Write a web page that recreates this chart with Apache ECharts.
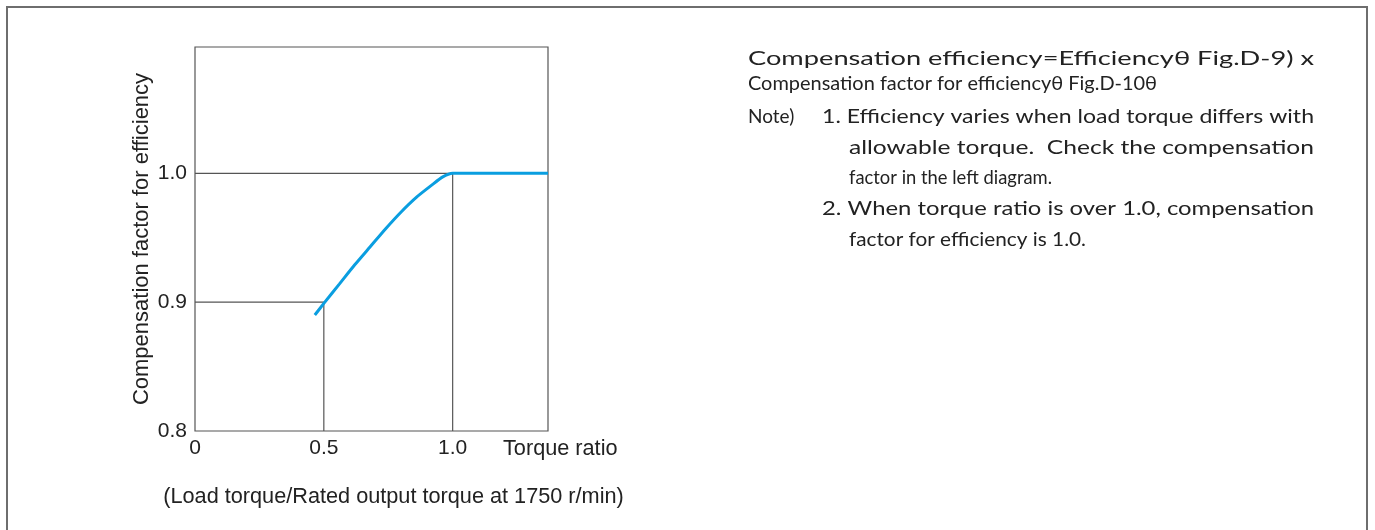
<!DOCTYPE html>
<html lang="en">
<head>
<meta charset="UTF-8" />
<title>Compensation factor for efficiency</title>
<script src="https://cdn.jsdelivr.net/npm/echarts@6/dist/echarts.min.js"></script>
<style>html,body{margin:0;padding:0;background:#fff}</style>
</head>
<body>
<div id="main" style="width:1375px;height:530px"></div>
<script>
// curve (torque ratio -> compensation factor)
var curveX = [0.465, 0.5, 0.56, 0.62, 0.68, 0.74, 0.8, 0.86, 0.92, 0.96, 1.0, 1.37];
var curveY = [0.89, 0.899, 0.914, 0.929, 0.943, 0.957, 0.97, 0.9815, 0.991, 0.997, 1.0, 1.0];
// guide lines at 1.0 and 0.9
var guide10 = [[0, 1.0], [1.0, 1.0], [1.0, 0.8]];
var guide09 = [[0, 0.9], [0.5, 0.9], [0.5, 0.8]];
var yTicks = [0.8, 0.9, 1.0];
var xTicks = [0, 0.5, 1.0];

var noteLines = [
  "Compensation efficiency=Efficiencyθ Fig.D-9) x",
  "Compensation factor for efficiencyθ Fig.D-10θ",
  "Note)",
  "1. Efficiency varies when load torque differs with",
  "allowable torque.  Check the compensation",
  "factor in the left diagram.",
  "2. When torque ratio is over 1.0, compensation",
  "factor for efficiency is 1.0."
];
// [left, right (0 = natural width), middle y]
var noteLayout = [
  [748, 1314, 59],
  [748, 1157, 84],
  [748, 0, 117],
  [822, 1314, 117],
  [849, 1314, 148],
  [849, 1052, 178],
  [822, 1314, 209],
  [849, 1086, 240]
];

var noteFont = '19px Lato';
var ctx = document.createElement("canvas").getContext("2d");
ctx.font = noteFont;

var graphics = [
  {
    type: "rect",
    shape: { x: 7, y: 7, width: 1360, height: 600 },
    style: { fill: "none", stroke: "#6e6e6e", lineWidth: 2 },
    silent: true
  },
  {
    type: "text",
    x: 503, y: 449,
    style: { text: "Torque ratio", font: '21.7px "Liberation Sans"', fill: "#222", verticalAlign: "middle" }
  }
];
noteLines.forEach(function (t, i) {
  var l = noteLayout[i];
  var w = ctx.measureText(t).width;
  var sx = l[1] ? (l[1] - l[0]) / w : 1;
  graphics.push({
    type: "text",
    x: l[0], y: l[2], scaleX: sx,
    style: { text: t, font: noteFont, fill: "#222", verticalAlign: "middle" }
  });
});

var chart = echarts.init(document.getElementById("main"));
var option = {
  animation: false,
  grid: {
    left: 195, top: 47, width: 353, height: 384,
    show: true, borderColor: "#555", borderWidth: 1.2
  },
  xAxis: {
    type: "value", min: 0, max: 1.37, interval: 0.5,
    name: "(Load torque/Rated output torque at 1750 r/min)",
    nameLocation: "middle", nameGap: 55,
    nameTextStyle: { fontFamily: "Liberation Sans", fontSize: 21.7, color: "#222", padding: [0, 0, 0, 44] },
    axisLine: { show: false }, axisTick: { show: false }, splitLine: { show: false },
    axisLabel: {
      showMaxLabel: false, margin: 7, fontFamily: "Liberation Sans", fontSize: 21, color: "#222",
      formatter: function (v) { return xTicks.indexOf(v) < 0 ? "" : (v === 0 ? "0" : v.toFixed(1)); }
    }
  },
  yAxis: {
    type: "value", min: 0.8, max: 1.098, interval: 0.1,
    name: "Compensation factor for efficiency",
    nameLocation: "middle", nameGap: 42,
    nameTextStyle: { fontFamily: "Liberation Sans", fontSize: 22, color: "#222" },
    axisLine: { show: false }, axisTick: { show: false }, splitLine: { show: false },
    axisLabel: {
      showMaxLabel: false, margin: 8, fontFamily: "Liberation Sans", fontSize: 21, color: "#222",
      formatter: function (v) {
        var r = Math.round(v * 10) / 10;
        return yTicks.indexOf(r) < 0 ? "" : r.toFixed(1);
      }
    }
  },
  series: [
    {
      type: "line", data: guide10, symbol: "none", silent: true,
      lineStyle: { color: "#555", width: 1.2 }
    },
    {
      type: "line", data: guide09, symbol: "none", silent: true,
      lineStyle: { color: "#555", width: 1.2 }
    },
    {
      type: "line", symbol: "none", smooth: 0.2, silent: true,
      data: curveX.map(function (x, i) { return [x, curveY[i]]; }),
      lineStyle: { color: "#0a9ee0", width: 3 }, z: 5
    }
  ],
  graphic: graphics
};
chart.setOption(option);
</script>
</body>
</html>
